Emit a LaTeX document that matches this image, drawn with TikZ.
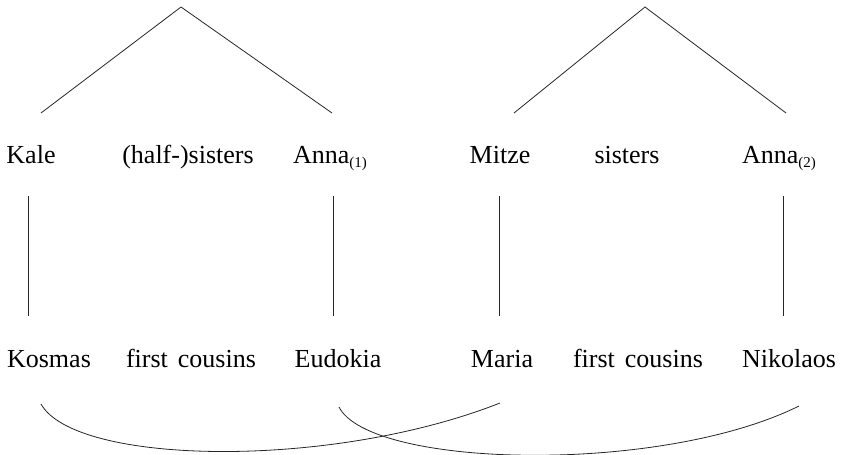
\documentclass[tikz,border=0pt]{standalone}
\usepackage{fontspec}
\setmainfont{Liberation Serif}
\newcommand{\idx}[1]{\raisebox{-4pt}{\fontsize{15}{15}\selectfont(#1)}}
\begin{document}
\begin{tikzpicture}[x=1pt,y=-1pt,
  lab/.style={anchor=base,inner sep=0pt,font=\fontsize{26}{30}\selectfont},
  ln/.style={line width=0.8pt,black!85}]
\useasboundingbox (0,0) rectangle (841,455);
% row 1
\node[lab] (kale) at (31,163) {Kale};
\node[lab] (hs) at (188,163) {(half-)sisters};
\node[lab] (anna1) at (330,163) {Anna\idx{1}};
\node[lab] (mitze) at (500,163) {Mitze};
\node[lab] (sis) at (627,163) {sisters};
\node[lab] (anna2) at (779,163) {Anna\idx{2}};
% row 2
\node[lab] (kosmas) at (49,367) {Kosmas};
\node[lab] (fc1) at (191,367) {first\hspace{10pt}cousins};
\node[lab] (eudokia) at (338,367) {Eudokia};
\node[lab] (maria) at (502,367) {Maria};
\node[lab] (fc2) at (638,367) {first\hspace{10pt}cousins};
\node[lab] (nikolaos) at (789,367) {Nikolaos};
% tree coordinates
\coordinate (apex1) at (181,7);
\coordinate (l1) at (41,113);
\coordinate (r1) at (332,113);
\coordinate (apex2) at (645,7);
\coordinate (l2) at (514,113);
\coordinate (r2) at (786,113);
\draw[ln] (l1) -- (apex1) -- (r1);
\draw[ln] (l2) -- (apex2) -- (r2);
% vertical lines
\coordinate (kt) at (28,196); \coordinate (kb) at (28,316);
\coordinate (at1) at (333,196); \coordinate (ab1) at (333,316);
\coordinate (mt) at (499,196); \coordinate (mb) at (499,316);
\coordinate (at2) at (783,196); \coordinate (ab2) at (783,316);
\draw[ln] (kt) -- (kb);
\draw[ln] (at1) -- (ab1);
\draw[ln] (mt) -- (mb);
\draw[ln] (at2) -- (ab2);
% cousin arcs
\coordinate (c1s) at (41,404); \coordinate (c1e) at (500,403);
\coordinate (c2s) at (339,407); \coordinate (c2e) at (799,406);
\draw[ln] (c1s) .. controls (75,465) and (330,470) .. (c1e);
\draw[ln] (c2s) .. controls (370,468) and (660,475) .. (c2e);
\end{tikzpicture}
\end{document}
